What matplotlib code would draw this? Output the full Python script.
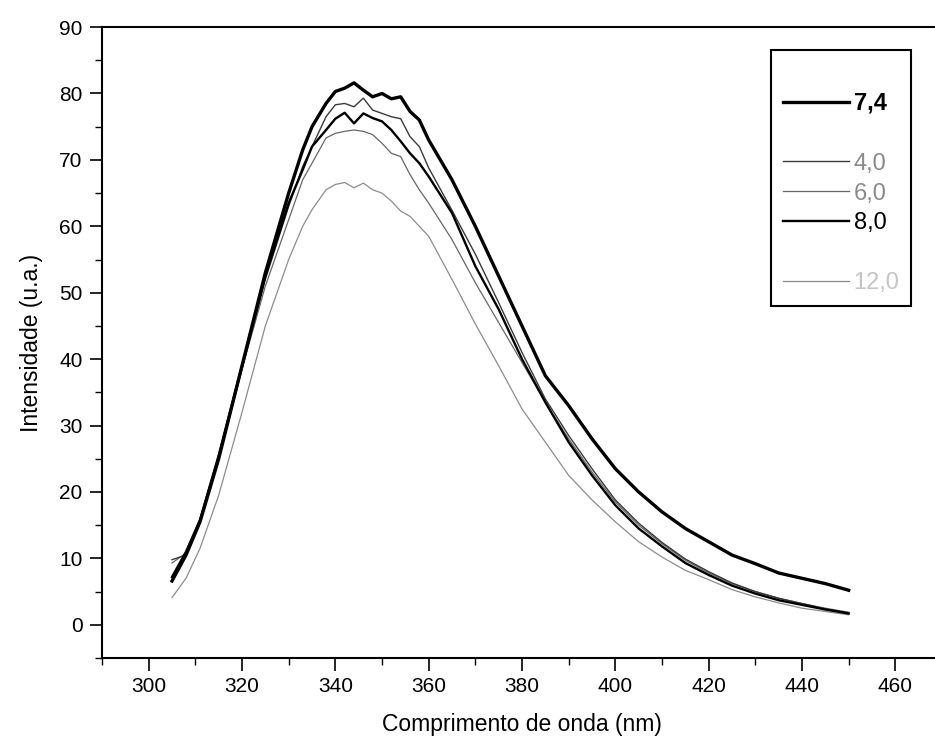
import matplotlib
matplotlib.use("Agg")
import matplotlib.pyplot as plt
from matplotlib.lines import Line2D
from matplotlib.ticker import MultipleLocator

plt.rcParams['font.family'] = ['Liberation Sans', 'DejaVu Sans']

# wavelength grid (nm) shared by all spectra
wavelength = [305, 308, 311, 315, 320, 325, 330, 333, 335, 338, 340, 342, 344, 346,
              348, 350, 352, 354, 356, 358, 360, 365, 370, 375, 380, 385, 390, 395,
              400, 405, 410, 415, 420, 425, 430, 435, 440, 445, 450]

# fluorescence intensity (a.u.) for each pH
ph_7_4 = [6.6, 10.5, 15.5, 25.0, 39.0, 53.0, 65.0, 71.5, 75.0, 78.5, 80.3, 80.8, 81.6, 80.5,
          79.5, 80.0, 79.2, 79.5, 77.3, 76.0, 73.0, 67.0, 60.0, 52.5, 45.0, 37.5, 33.0, 28.0,
          23.5, 20.0, 17.0, 14.5, 12.5, 10.5, 9.2, 7.8, 7.0, 6.2, 5.2]
ph_4_0 = [9.8, 10.5, 15.5, 25.0, 38.5, 52.0, 63.0, 69.0, 72.0, 76.5, 78.3, 78.5, 78.0, 79.3,
          77.5, 77.0, 76.5, 76.2, 73.5, 72.0, 68.8, 62.4, 55.8, 48.5, 41.0, 34.0, 28.5, 23.5,
          18.8, 15.3, 12.4, 9.9, 8.0, 6.3, 5.0, 4.0, 3.2, 2.4, 1.8]
ph_6_0 = [9.3, 10.8, 15.5, 25.0, 38.5, 51.0, 61.0, 67.0, 69.5, 73.3, 74.0, 74.3, 74.5, 74.3,
          73.8, 72.5, 71.0, 70.5, 67.8, 65.5, 63.5, 58.0, 51.5, 45.5, 39.5, 33.5, 28.0, 23.0,
          18.5, 15.0, 12.2, 9.7, 7.8, 6.2, 5.0, 4.0, 3.2, 2.5, 1.9]
ph_8_0 = [7.2, 11.0, 15.8, 25.5, 39.0, 52.5, 63.5, 68.5, 72.0, 74.5, 76.2, 77.1, 75.5, 77.0,
          76.3, 75.8, 74.5, 72.8, 71.0, 69.5, 67.5, 62.0, 54.0, 47.5, 40.0, 33.5, 27.5, 22.5,
          18.0, 14.5, 11.8, 9.3, 7.5, 5.9, 4.7, 3.7, 3.0, 2.3, 1.7]
ph_12_0 = [4.1, 7.0, 11.5, 19.5, 32.0, 45.0, 55.0, 60.0, 62.5, 65.5, 66.3, 66.6, 65.8, 66.5,
           65.5, 65.0, 63.8, 62.3, 61.5, 60.0, 58.5, 52.0, 45.3, 39.0, 32.5, 27.5, 22.5, 18.8,
           15.5, 12.5, 10.2, 8.2, 6.8, 5.3, 4.2, 3.3, 2.5, 2.0, 1.5]

fig = plt.figure(figsize=(9.35, 7.52), dpi=100)
ax = fig.add_axes([0.1091, 0.125, 0.8984, 0.839])

ax.plot(wavelength, ph_12_0, color='#8c8c8c', lw=0.9)
ax.plot(wavelength, ph_6_0, color='#666666', lw=0.9)
ax.plot(wavelength, ph_4_0, color='#3a3a3a', lw=1.0)
ax.plot(wavelength, ph_8_0, color='black', lw=1.7)
ax.plot(wavelength, ph_7_4, color='black', lw=2.4)

ax.set_xlim(290, 470)
ax.set_ylim(-5, 90)
ax.xaxis.set_major_locator(MultipleLocator(20))
ax.xaxis.set_minor_locator(MultipleLocator(10))
ax.yaxis.set_major_locator(MultipleLocator(10))
ax.yaxis.set_minor_locator(MultipleLocator(5))
ax.tick_params(which='major', direction='out', length=9, width=1.2, labelsize=15, pad=5)
ax.tick_params(which='minor', direction='out', length=5, width=1.0)
ax.tick_params(top=False, right=False)
for side in ['left', 'bottom', 'top']:
    ax.spines[side].set_linewidth(1.5)
ax.spines['right'].set_visible(False)

ax.set_xlabel('Comprimento de onda (nm)', fontsize=16.5, labelpad=12)
ax.set_ylabel('Intensidade (u.a.)', fontsize=16.5, labelpad=12)

# legend with blank rows to reproduce the original spacing
blank = Line2D([], [], color='none')
handles = [blank,
           Line2D([], [], color='black', lw=2.4), blank,
           Line2D([], [], color='#3a3a3a', lw=1.0),
           Line2D([], [], color='#666666', lw=0.9),
           Line2D([], [], color='black', lw=1.7), blank,
           Line2D([], [], color='#8c8c8c', lw=0.9)]
labels = [' ', '7,4', ' ', '4,0', '6,0', '8,0', ' ', '12,0']
leg = ax.legend(handles, labels, loc='upper left', bbox_to_anchor=(0.7964, 0.9635),
                fontsize=17, frameon=True, fancybox=False, framealpha=1,
                handlelength=2.8, handletextpad=0.2, labelspacing=0.335,
                borderpad=0.5, borderaxespad=0)
leg.get_frame().set_edgecolor('black')
leg.get_frame().set_linewidth(1.5)
text_colors = ['black', 'black', 'black', '#8a8a8a', '#8a8a8a', 'black', 'black', '#c4c4c4']
for txt, c in zip(leg.get_texts(), text_colors):
    txt.set_color(c)
leg.get_texts()[1].set_fontweight('bold')

fig.savefig('out.png', dpi=100)
